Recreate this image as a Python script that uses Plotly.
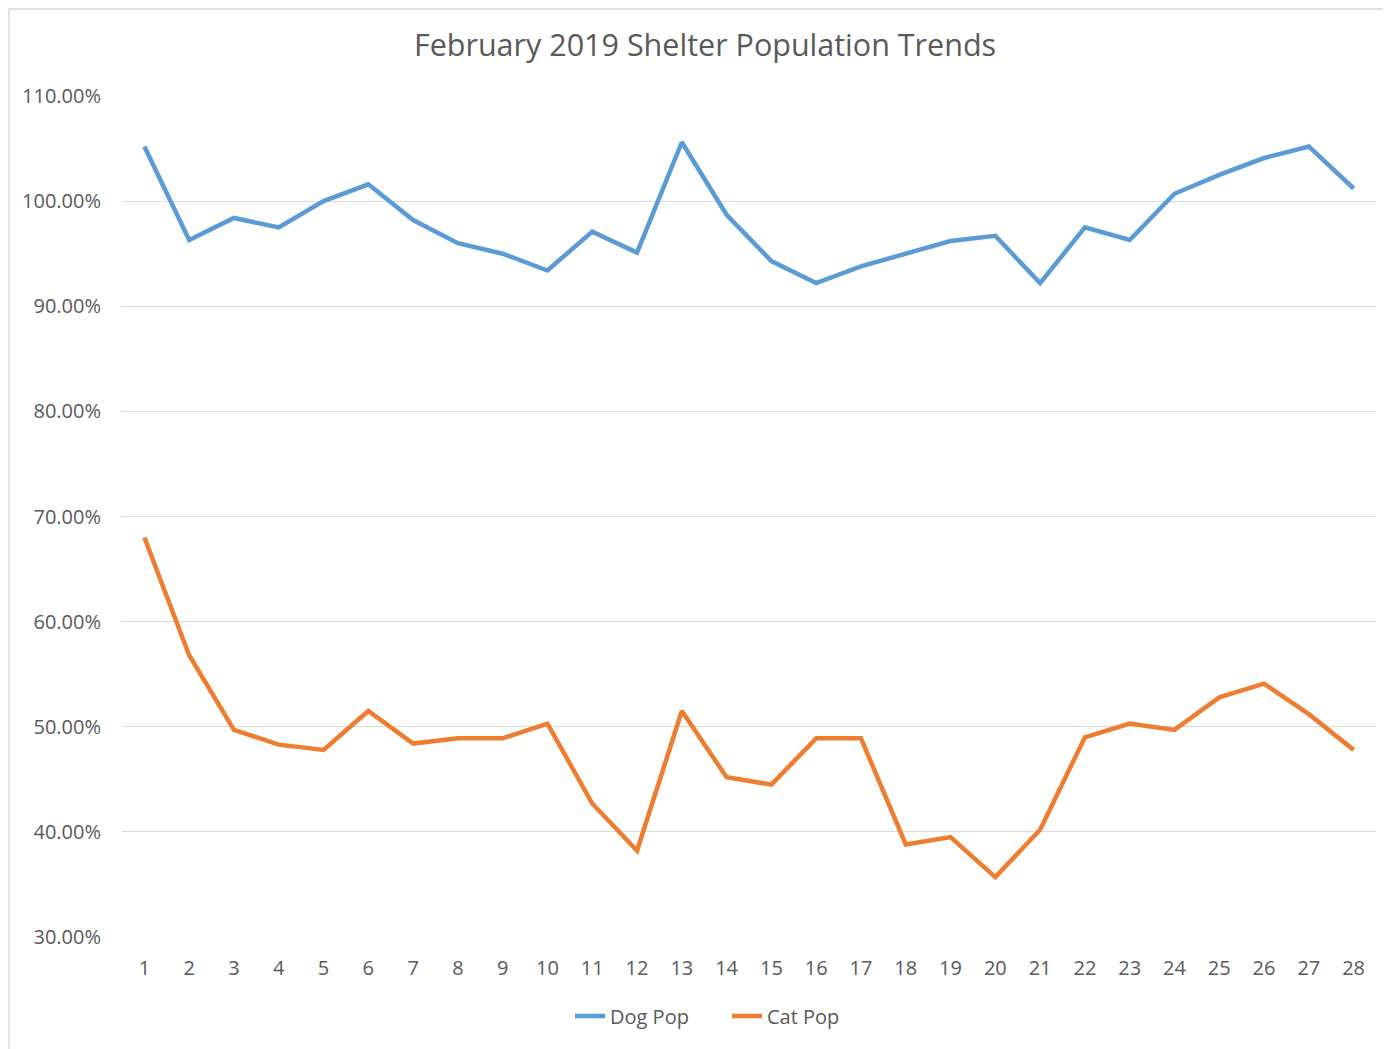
import plotly.graph_objects as go

days = [str(d) for d in range(1, 29)]
dog_pop = [105.2, 96.3, 98.4, 97.5, 100.0, 101.6, 98.2, 96.0, 95.0, 93.4,
           97.1, 95.1, 105.6, 98.7, 94.3, 92.2, 93.8, 95.0, 96.2, 96.7,
           92.2, 97.5, 96.3, 100.7, 102.5, 104.1, 105.2, 101.2]
cat_pop = [68.0, 56.8, 49.7, 48.3, 47.8, 51.5, 48.4, 48.9, 48.9, 50.3,
           42.7, 38.2, 51.5, 45.2, 44.5, 48.9, 48.9, 38.8, 39.5, 35.7,
           40.2, 49.0, 50.3, 49.7, 52.8, 54.1, 51.2, 47.8]
y_ticks = [30, 40, 50, 60, 70, 80, 90, 100, 110]
y_tick_labels = [f"{v:.2f}%" for v in y_ticks]

font_family = "Open Sans, Liberation Sans, sans-serif"
text_color = "#595959"

# page has an 8px body margin; figure coordinates below are page - 8
W, H = 1383, 1041
L, R, T, B = 114, 15, 88, 112
PW, PH = W - L - R, H - T - B

fig = go.Figure()
fig.add_trace(go.Scatter(x=days, y=dog_pop, mode="lines", name="Dog Pop",
                         line=dict(color="#5B9BD5", width=4.5)))
fig.add_trace(go.Scatter(x=days, y=cat_pop, mode="lines", name="Cat Pop",
                         line=dict(color="#ED7D31", width=4.5)))

fig.update_layout(
    width=W, height=H,
    paper_bgcolor="white", plot_bgcolor="white",
    margin=dict(l=L, r=R, t=T, b=B),
    font=dict(family=font_family, color=text_color, size=20),
    title=dict(text="February 2019 Shelter Population Trends",
               x=697 / W, xref="container", xanchor="center",
               y=1 - 37 / H, yref="container", yanchor="middle",
               font=dict(size=30.5, color=text_color, family=font_family)),
    xaxis=dict(type="category", range=[-0.5, 27.5], showgrid=False,
               showline=False, zeroline=False, ticks="",
               tickfont=dict(size=20, color=text_color), ticklabelstandoff=17),
    yaxis=dict(range=[30, 110], tickvals=y_ticks, ticktext=y_tick_labels,
               showgrid=True, gridcolor="#D9D9D9", gridwidth=1, zeroline=False,
               showline=False, ticks="", tickfont=dict(size=20, color=text_color),
               ticklabelstandoff=20),
    legend=dict(orientation="h", x=719 / W, xanchor="center", xref="container",
                y=1 - 1008 / H, yref="container", yanchor="middle",
                font=dict(size=20, color=text_color), entrywidth=112),
    shapes=[dict(type="rect", xref="paper", yref="paper",
                 x0=-(L - 1) / PW, x1=1.1, y0=-0.3, y1=1 + (T - 1) / PH,
                 line=dict(color="#D9D9D9", width=1.5), layer="below")],
    showlegend=True,
)

fig.write_html("out.html")
